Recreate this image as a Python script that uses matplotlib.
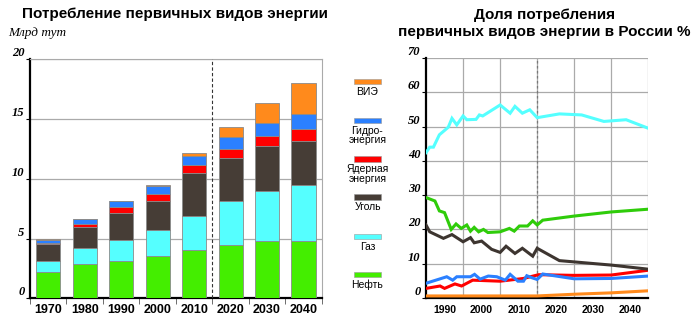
import numpy as np
import matplotlib
matplotlib.use("Agg")
import matplotlib.pyplot as plt
from matplotlib.patches import Rectangle

plt.rcParams['font.family'] = ['Liberation Sans', 'DejaVu Sans']

# --- left chart: stacked consumption, billion tce ---
decades = ['1970', '1980', '1990', '2000', '2010', '2020', '2030', '2040']
oil     = [2.2, 2.9, 3.1, 3.55, 4.0, 4.5, 4.8, 4.8]
gas     = [0.95, 1.3, 1.8, 2.2, 2.85, 3.6, 4.15, 4.7]
coal    = [1.4, 1.8, 2.2, 2.35, 3.65, 3.6, 3.8, 3.7]
nuclear = [0.05, 0.25, 0.5, 0.65, 0.65, 0.8, 0.85, 1.0]
hydro   = [0.3, 0.35, 0.5, 0.65, 0.75, 1.0, 1.1, 1.25]
renew   = [0.05, 0.05, 0.05, 0.05, 0.22, 0.8, 1.6, 2.55]

# --- right chart: shares in Russia, % ---
gas_x = [1985, 1986, 1987, 1988.6, 1991, 1992, 1993.3, 1995, 1996, 1998.5, 1999.4, 2000.3,
         2005, 2007.7, 2009, 2011, 2013, 2015, 2021, 2027, 2033, 2039, 2045]
gas_y = [42.4, 44.0, 44.0, 47.6, 49.8, 52.4, 50.5, 53.1, 52.0, 52.1, 53.4, 53.1,
         56.3, 53.9, 55.9, 53.9, 54.9, 52.6, 53.7, 53.4, 51.5, 52.0, 49.5]
oil_x = [1985, 1987.4, 1988.6, 1990, 1991.8, 1993.1, 1994.5, 1996, 1997, 1998, 1999.2, 2000.5,
         2001.7, 2005, 2007.5, 2008.8, 2010.2, 2012.4, 2013.8, 2015, 2016.5, 2025, 2035, 2045]
oil_y = [29.3, 28.3, 25.4, 24.9, 20.0, 21.6, 20.3, 21.3, 19.5, 20.6, 19.3, 20.0,
         19.1, 19.3, 20.3, 19.5, 21.0, 21.0, 22.5, 21.3, 22.7, 23.9, 25.1, 25.9]
coal_x = [1985, 1986, 1989.7, 1992, 1995, 1997, 1998, 2000, 2002.7, 2005, 2006.6, 2009,
          2011, 2013.8, 2015, 2021, 2035, 2045]
coal_y = [21.3, 19.3, 17.4, 18.5, 16.4, 17.6, 16.1, 16.6, 14.2, 13.3, 15.1, 13.0,
          14.5, 12.2, 14.5, 10.9, 9.6, 8.4]
nuc_x = [1985, 1988.8, 1990, 1992.8, 1994.6, 1997.6, 2005, 2011.3, 2015.4, 2025, 2035, 2045]
nuc_y = [2.8, 3.5, 2.8, 4.1, 3.5, 5.2, 4.9, 5.7, 6.8, 6.6, 6.7, 8.1]
hyd_x = [1985, 1990.6, 1992.2, 1993.3, 1997, 1998.1, 1999.6, 2001.8, 2004.1, 2006.4, 2007.7,
         2009.8, 2011.3, 2012.2, 2013.6, 2015, 2016.5, 2025, 2035, 2045]
hyd_y = [4.3, 6.2, 5.2, 6.2, 6.2, 6.9, 5.5, 6.4, 6.2, 5.2, 6.9,
         4.9, 4.9, 6.5, 5.9, 5.4, 7.0, 5.6, 5.7, 6.4]
ren_x = [1985, 2015, 2025, 2035, 2045]
ren_y = [0.6, 0.6, 1.1, 1.5, 2.1]

c_oil, c_gas, c_coal = '#44ee00', '#55ffff', '#463d36'
c_nuc, c_hyd, c_ren = '#ff0000', '#2b80ff', '#ff8a1c'

fig = plt.figure(figsize=(7, 3.23), dpi=100)
serif_num = dict(family='Liberation Serif', style='italic', weight='bold', size=9)

# ---------------- left chart ----------------
ax = fig.add_axes([0.0429, 0.0765, 0.4167, 0.74])
x = np.arange(len(decades))
bottom = np.zeros(len(decades))
for vals, col in [(oil, c_oil), (gas, c_gas), (coal, c_coal),
                  (nuclear, c_nuc), (hydro, c_hyd), (renew, c_ren)]:
    ax.bar(x, vals, bottom=bottom, width=0.66, color=col, edgecolor='#8a8a8a',
           linewidth=0.6, zorder=3)
    bottom += np.array(vals)
ax.set_xlim(-0.5, len(decades) - 0.5)
ax.set_ylim(0, 20)
ax.set_yticks([0, 5, 10, 15, 20])
ax.set_yticklabels(['0', '5', '10', '15', '20'], fontdict=serif_num)
for lab in ax.get_yticklabels():
    lab.set_verticalalignment('bottom')
ax.tick_params(axis='y', length=3, pad=1)
ax.set_xticks(x)
ax.set_xticklabels(decades, fontsize=9, fontweight='bold')
ax.set_xticks(np.arange(-0.5, len(decades)), minor=True)
ax.tick_params(axis='x', which='major', length=0, pad=4)
ax.tick_params(axis='x', which='minor', length=4, color='#555555')
ax.grid(axis='y', color='#aaaaaa', linewidth=0.9, zorder=0)
ax.axvline(4.5, color='#333333', linestyle=(0, (3, 2)), linewidth=0.8, zorder=4)
for s in ['top', 'right']:
    ax.spines[s].set_color('#aaaaaa')
for s in ['left', 'bottom']:
    ax.spines[s].set_linewidth(1.6)
ax.text(-0.075, 1.085, 'Млрд тут', transform=ax.transAxes, ha='left', va='bottom',
        family='Liberation Serif', style='italic', size=9.5)
fig.text(0.25, 0.957, 'Потребление первичных видов энергии', ha='center', va='center',
         fontsize=11, fontweight='bold')

# ---------------- legend (middle) ----------------
legend_items = [('ВИЭ', c_ren, 0.739), ('Гидро-\nэнергия', c_hyd, 0.619),
                ('Ядерная\nэнергия', c_nuc, 0.5), ('Уголь', c_coal, 0.382),
                ('Газ', c_gas, 0.26), ('Нефть', c_oil, 0.142)]
for lab, col, yy in legend_items:
    fig.patches.append(Rectangle((0.506, yy), 0.038, 0.017, transform=fig.transFigure,
                                 facecolor=col, edgecolor='#999999', linewidth=0.4))
    fig.text(0.525, yy - 0.008, lab, ha='center', va='top', fontsize=7.5,
             linespacing=0.95)

# ---------------- right chart ----------------
ax2 = fig.add_axes([0.6086, 0.0774, 0.3176, 0.743])
for xs, ys, col in [(ren_x, ren_y, c_ren), (nuc_x, nuc_y, c_nuc), (hyd_x, hyd_y, c_hyd),
                    (coal_x, coal_y, '#3d3530'), (oil_x, oil_y, '#2fcc0a'),
                    (gas_x, gas_y, c_gas)]:
    ax2.plot(xs, ys, color=col, linewidth=2.2, zorder=3, solid_joinstyle='miter')
ax2.set_xlim(1985, 2045)
ax2.set_ylim(0, 70)
ax2.set_yticks(range(0, 71, 10))
ax2.set_yticklabels([str(v) for v in range(0, 71, 10)], fontdict=serif_num)
for lab in ax2.get_yticklabels():
    lab.set_verticalalignment('bottom')
ax2.tick_params(axis='y', length=3, pad=1)
ax2.set_xticks(range(1995, 2046, 10))
ax2.set_xticklabels([])
ax2.tick_params(axis='x', length=0)
for yr in range(1990, 2041, 10):
    ax2.text(yr, -2.0, str(yr), ha='center', va='top', fontsize=7.5, fontweight='bold')
ax2.grid(color='#aaaaaa', linewidth=0.9, zorder=0)
ax2.axvline(2015, color='#777777', linestyle=(0, (2, 2)), linewidth=0.9, zorder=2)
for s in ['top', 'right']:
    ax2.spines[s].set_visible(False)
for s in ['left', 'bottom']:
    ax2.spines[s].set_linewidth(1.6)
fig.text(0.778, 0.927, 'Доля потребления\nпервичных видов энергии в России %',
         ha='center', va='center', fontsize=11, fontweight='bold', linespacing=1.3)

fig.savefig('out.png', dpi=100)
